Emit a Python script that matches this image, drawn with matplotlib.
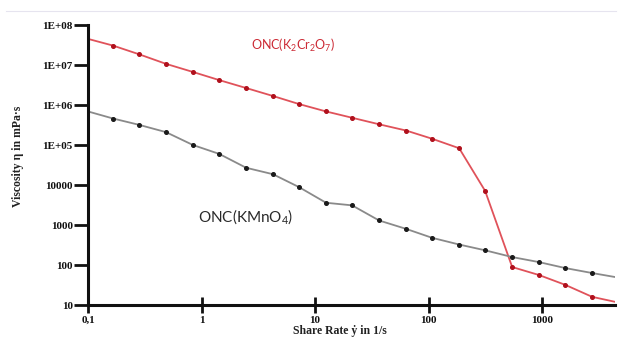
import matplotlib
matplotlib.use("Agg")
import matplotlib.pyplot as plt
from matplotlib.ticker import FixedLocator, NullLocator

# shear rate grid (1/s)
rate_red = [0.1, 0.166, 0.281, 0.486, 0.84, 1.43, 2.47, 4.26, 7.2, 12.5, 21.2,
            36.6, 63.4, 107, 186, 315, 545, 942, 1596, 2760, 4400]
visc_red = [4.5e7, 3.06e7, 1.86e7, 1.07e7, 6.7e6, 4.2e6, 2.66e6, 1.68e6, 1.06e6,
            6.9e5, 4.8e5, 3.3e5, 2.3e5, 1.44e5, 8.3e4, 7.1e3, 89, 56, 32, 16, 12]

rate_gray = rate_red
visc_gray = [6.9e5, 4.6e5, 3.2e5, 2.1e5, 1.0e5, 6.0e4, 2.7e4, 1.86e4, 8.9e3,
             3.6e3, 3.1e3, 1.3e3, 800, 480, 325, 233, 158, 118, 84, 63, 50]

x_ticks = [0.1, 1, 10, 100, 1000]
x_labels = ["0,1", "1", "10", "100", "1000"]
y_ticks = [1e8, 1e7, 1e6, 1e5, 1e4, 1e3, 100, 10]
y_labels = ["1E+08", "1E+07", "1E+06", "1E+05", "10000", "1000", "100", "10"]

serif = ["Liberation Serif", "DejaVu Serif"]
plt.rcParams["mathtext.fontset"] = "custom"
plt.rcParams["mathtext.rm"] = "Lato"
plt.rcParams["mathtext.it"] = "Lato"

fig = plt.figure(figsize=(6.22, 3.38), dpi=100)
ax = fig.add_axes([0.1415, 0.0976, 0.8475, 0.8284])

# faint rule along the top
fig.add_artist(plt.Line2D([0.01, 0.99], [0.967, 0.967], color="#e6e4ef", lw=0.8))

ax.plot(rate_red, visc_red, color="#e0525a", lw=1.3, zorder=2)
ax.plot(rate_red[1:-1], visc_red[1:-1], "o", color="#b0101c", ms=2.6, zorder=3)
ax.plot(rate_gray, visc_gray, color="#8a8a8a", lw=1.3, zorder=2)
ax.plot(rate_gray[1:-1], visc_gray[1:-1], "o", color="#1a1a1a", ms=2.6, zorder=3)

ax.set_xscale("log")
ax.set_yscale("log")
ax.set_xlim(0.1, 4400)
ax.set_ylim(10, 1e8)

for s in ["top", "right"]:
    ax.spines[s].set_visible(False)
for s in ["left", "bottom"]:
    ax.spines[s].set_linewidth(2.2)
    ax.spines[s].set_color("#111111")

ax.xaxis.set_major_locator(FixedLocator(x_ticks))
ax.xaxis.set_minor_locator(NullLocator())
ax.yaxis.set_major_locator(FixedLocator(y_ticks))
ax.yaxis.set_minor_locator(NullLocator())
ax.set_xticklabels(x_labels, fontfamily=serif, fontweight="bold", fontsize=8)
ax.set_yticklabels(y_labels, fontfamily=serif, fontweight="bold", fontsize=8)
ax.tick_params(axis="x", direction="inout", length=11, width=2, pad=2.5, colors="#111111")
ax.tick_params(axis="y", direction="out", length=10, width=2, pad=1, colors="#111111")

fig.text(0.029, 0.538, "Viscosity η in mPa·s", rotation=90, ha="center", va="center",
         family=serif, fontweight="bold", fontsize=8.5, color="#222222")
fig.text(0.547, 0.002, "Share Rate ẏ in 1/s", ha="center", va="bottom",
         family=serif, fontweight="bold", fontsize=8.5, color="#222222")

ax.text(0.471, 0.867, "ONC(K$_2$Cr$_2$O$_7$)", transform=fig.transFigure,
        ha="center", va="center", family="Lato", fontsize=9, color="#cc2a35")
ax.text(0.395, 0.358, "ONC(KMnO$_4$)", transform=fig.transFigure,
        ha="center", va="center", family="Lato", fontsize=11, color="#2a2a2a")

fig.savefig("out.png", dpi=100)
